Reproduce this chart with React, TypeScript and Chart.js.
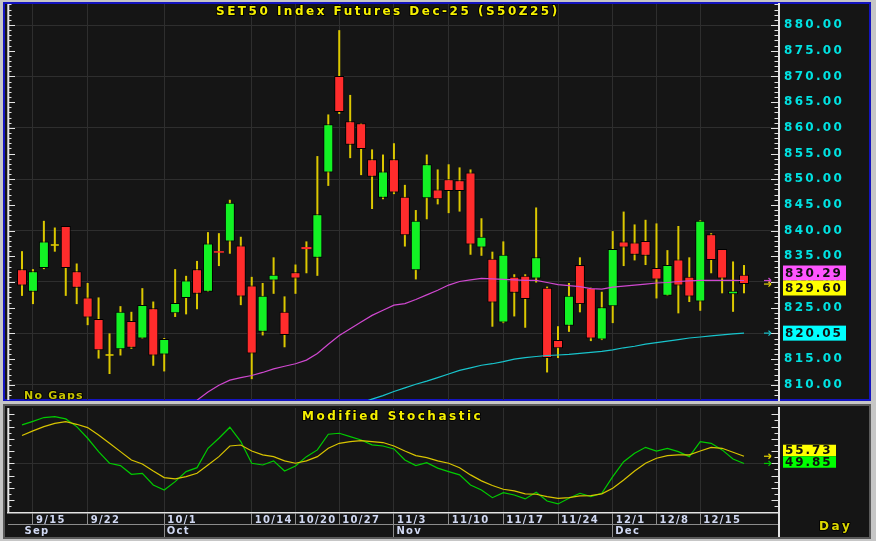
import React, { useEffect, useRef } from 'react';
import { Chart, registerables } from 'chart.js';

Chart.register(...registerables);

// ---------------- data ----------------
// trading days 9/12 .. 12/19 (index 0 = 9/12)
const opens = [
  832.5, 828.1, 832.7, 837.2, 840.9, 832.1, 827.0, 822.8, 815.8, 816.9,
  822.4, 819.0, 824.9, 815.9, 823.9, 826.9, 832.5, 828.1, 836.0, 837.9,
  837.1, 829.3, 820.3, 830.3, 824.2, 831.9, 836.8, 834.7, 851.3, 870.1,
  861.3, 860.9, 853.9, 846.4, 853.9, 846.6, 832.3, 846.3, 848.0, 850.0,
  849.8, 851.3, 836.7, 834.5, 822.1, 831.0, 831.2, 830.7, 828.9, 818.7,
  821.5, 833.3, 828.9, 818.8, 825.3, 837.9, 837.7, 838.0, 832.7, 827.3,
  834.4, 831.0, 826.2, 839.3, 836.4, 827.6, 831.4,
];
const highs = [
  836.0, 832.5, 841.9, 840.6, 840.9, 833.6, 829.8, 827.0, 820.0, 825.3,
  824.2, 828.8, 826.2, 819.1, 832.5, 831.2, 834.1, 839.7, 839.5, 846.0,
  838.8, 831.0, 829.8, 834.8, 827.2, 833.4, 837.9, 854.5, 862.6, 879.0,
  866.4, 860.9, 855.8, 854.8, 857.0, 848.9, 844.0, 854.8, 851.9, 852.9,
  852.3, 851.9, 842.4, 835.9, 837.9, 831.5, 831.5, 844.5, 829.1, 821.4,
  829.8, 834.8, 828.9, 828.1, 839.9, 843.7, 841.2, 842.1, 841.4, 836.2,
  840.9, 834.8, 842.0, 839.5, 836.4, 834.0, 833.3,
];
const lows = [
  827.3, 825.7, 832.5, 835.9, 827.3, 825.7, 821.6, 815.1, 812.1, 815.7,
  817.0, 819.0, 813.7, 812.6, 823.2, 823.7, 824.7, 828.1, 833.1, 835.5,
  825.5, 811.1, 819.6, 827.7, 817.3, 827.7, 831.7, 831.2, 848.7, 862.7,
  854.1, 850.8, 844.2, 846.1, 847.1, 836.9, 830.5, 842.2, 845.1, 843.4,
  843.7, 835.3, 835.1, 821.3, 822.0, 823.3, 821.1, 829.9, 812.4, 815.2,
  820.3, 824.1, 818.5, 818.7, 822.0, 833.1, 834.2, 833.3, 826.8, 827.3,
  823.9, 826.1, 824.4, 831.7, 827.8, 824.2, 827.8,
];
const closes = [
  829.3, 832.1, 837.9, 837.2, 832.7, 828.9, 823.1, 816.7, 815.8, 824.2,
  817.2, 825.5, 815.7, 818.9, 825.9, 830.3, 827.7, 837.5, 835.7, 845.4,
  827.2, 816.1, 827.3, 831.4, 819.7, 830.7, 836.4, 843.2, 860.7, 863.1,
  856.7, 855.9, 850.5, 851.5, 847.4, 839.1, 841.9, 852.9, 846.1, 847.7,
  847.7, 837.3, 838.8, 826.0, 835.3, 827.9, 826.7, 834.8, 815.2, 817.1,
  827.3, 825.7, 819.0, 825.1, 836.4, 836.7, 835.3, 835.1, 830.5, 833.3,
  829.3, 827.2, 841.9, 834.3, 830.7, 828.3, 829.6,
];
// magenta moving average
const maFast = [
  null, null, null, null, null, null, null, null, null, null,
  null, null, null, null, null, 805.8, 807.0, 808.6, 809.9, 810.9,
  811.4, 811.8, 812.4, 813.1, 813.6, 814.1, 814.8, 816.1, 817.9, 819.6,
  820.9, 822.2, 823.5, 824.5, 825.5, 825.8, 826.6, 827.5, 828.4, 829.4,
  830.1, 830.4, 830.7, 830.6, 830.5, 830.4, 830.3, 830.3, 829.9, 829.5,
  829.3, 829.1, 828.7, 828.6, 829.0, 829.2, 829.4, 829.6, 829.8, 829.9,
  830.1, 830.2, 830.3, 830.3, 830.3, 830.3, 830.29,
];
// cyan moving average
const maSlow = [
  null, null, null, null, null, null, null, null, null, null,
  null, null, null, null, null, null, null, null, null, null,
  null, null, null, null, null, null, null, null, null, null,
  null, 806.5, 807.2, 807.9, 808.7, 809.4, 810.1, 810.7, 811.4, 812.1,
  812.8, 813.3, 813.8, 814.1, 814.5, 815.0, 815.3, 815.5, 815.7, 815.8,
  815.9, 816.1, 816.3, 816.5, 816.8, 817.2, 817.5, 817.9, 818.2, 818.5,
  818.8, 819.1, 819.3, 819.5, 819.7, 819.9, 820.05,
];
// Modified Stochastic
const stochK = [
  81.3, 84.2, 87.3, 88.1, 86.2, 79.9, 70.4, 59.5, 50.0, 48.1,
  41.0, 41.8, 32.3, 28.2, 35.0, 43.2, 46.4, 62.2, 70.4, 79.4,
  67.7, 50.0, 48.6, 51.9, 43.7, 47.8, 55.4, 60.9, 73.7, 74.5,
  71.7, 69.0, 65.0, 64.1, 61.7, 52.7, 48.1, 50.5, 46.0, 43.2,
  40.5, 32.3, 28.2, 21.9, 26.0, 24.1, 20.9, 26.3, 19.2, 16.8,
  21.4, 25.5, 22.8, 25.5, 39.1, 51.3, 58.1, 63.0, 60.0, 62.2,
  59.5, 55.4, 67.7, 66.3, 60.9, 53.5, 49.85,
];
const stochD = [
  72.6, 76.4, 79.9, 82.6, 84.0, 81.8, 79.1, 73.1, 66.3, 59.5,
  52.7, 49.4, 43.7, 38.3, 37.2, 39.1, 41.8, 48.6, 55.4, 64.1,
  64.9, 60.0, 56.8, 55.4, 51.9, 50.0, 51.9, 55.4, 62.2, 66.3,
  67.7, 68.5, 67.7, 66.9, 64.1, 60.0, 56.2, 54.6, 52.0, 50.0,
  46.4, 40.5, 35.6, 31.8, 28.8, 27.4, 25.0, 24.7, 22.8, 21.4,
  21.9, 23.3, 23.6, 25.0, 29.6, 36.4, 43.7, 50.0, 54.1, 56.2,
  56.8, 56.8, 60.0, 63.0, 62.2, 59.0, 55.73,
];
const weekTickIdx = [1, 6, 13, 21, 25, 29, 34, 39, 44, 49, 54, 58, 62];
const weekTickLabels = ['9/15', '9/22', '10/1', '10/14', '10/20', '10/27', '11/3', '11/10', '11/17', '11/24', '12/1', '12/8', '12/15'];
const monthTickIdx = [0, 13, 34, 54];
const monthTickLabels = ['Sep', 'Oct', 'Nov', 'Dec'];
const titleText = 'SET50 Index Futures Dec-25 (S50Z25)';
const stochTitle = 'Modified Stochastic';

// ---------------- style ----------------
const FONT = '"DejaVu Sans", Verdana, sans-serif';
const BG = '#151515';
const GRID = '#2e2e2e';
const AXIS = '#e4e4e4';
const UP = '#12f224';
const DOWN = '#ff2c2c';
const WICK = '#dcc800';
const MAG = '#d048d0';
const CYAN = '#18c4cc';
const K_GREEN = '#00cc00';
const D_YELLOW = '#d8c400';
const X_MIN = -1.28;
const X_MAX = 69.2;
const Y_MIN = 807.04;
const Y_MAX = 884.09;
const S_MIN = 9.4;
const S_MAX = 95.1;

const pts = (arr) => arr.map((v, i) => (v == null ? null : { x: i, y: v })).filter((p) => p !== null);

function noPad(s) {
  s.paddingTop = 0;
  s.paddingBottom = 0;
  s.paddingLeft = 0;
  s.paddingRight = 0;
}

function seg(ctx, x1, y1, x2, y2) {
  ctx.beginPath();
  ctx.moveTo(x1, y1);
  ctx.lineTo(x2, y2);
  ctx.stroke();
}

function drawText(ctx, s, x, y, color, size, ls) {
  ctx.font = `bold ${size}px ${FONT}`;
  ctx.letterSpacing = ls;
  ctx.textAlign = 'left';
  ctx.textBaseline = 'alphabetic';
  ctx.lineJoin = 'round';
  ctx.lineWidth = 2;
  ctx.strokeStyle = 'rgba(0,0,0,0.9)';
  ctx.strokeText(s, x, y);
  ctx.fillStyle = color;
  ctx.fillText(s, x, y);
}

function arrow(ctx, x, y, color) {
  ctx.strokeStyle = color;
  ctx.lineWidth = 1.2;
  seg(ctx, x, y, x + 7, y);
  seg(ctx, x + 7, y, x + 4.5, y - 2.5);
  seg(ctx, x + 7, y, x + 4.5, y + 2.5);
}

function valueBox(ctx, x, top, w, h, bg, text) {
  ctx.fillStyle = bg;
  ctx.fillRect(x, top, w, h);
  ctx.font = `bold 12px ${FONT}`;
  ctx.letterSpacing = '1.9px';
  ctx.textAlign = 'left';
  ctx.textBaseline = 'middle';
  ctx.fillStyle = '#101010';
  ctx.fillText(text, x + 2, top + h / 2 + 0.5);
}

// place two boxes: the upper one ends at the upper value's pixel when they collide
function boxPair(ctx, scale, entries, x, w, h, decimals) {
  const sorted = entries.slice().sort((a, b) => b.v - a.v);
  const yA = scale.getPixelForValue(sorted[0].v);
  const yB = scale.getPixelForValue(sorted[1].v);
  if (yB - yA < h) {
    valueBox(ctx, x, yA - h, w, h, sorted[0].bg, sorted[0].v.toFixed(decimals));
    valueBox(ctx, x, yA, w, h, sorted[1].bg, sorted[1].v.toFixed(decimals));
  } else {
    valueBox(ctx, x, yA - h / 2, w, h, sorted[0].bg, sorted[0].v.toFixed(decimals));
    valueBox(ctx, x, yB - h / 2, w, h, sorted[1].bg, sorted[1].v.toFixed(decimals));
  }
}

// ---------------- main chart ----------------
function mainConfig() {
  const bodies = [];
  const dojis = [];
  const wicks = [];
  opens.forEach((o, i) => {
    const c = closes[i];
    wicks.push({ x: i, y: [lows[i], highs[i]] });
    if (Math.abs(o - c) < 0.05) dojis.push({ x: i, y: o });
    else bodies.push({ x: i, y: [o, c], up: c > o });
  });
  const last = closes.length - 1;

  const decor = {
    id: 'mainDecor',
    beforeDraw(chart) {
      chart.ctx.letterSpacing = '2.3px';
    },
    afterDraw(chart) {
      const { ctx, chartArea: ca } = chart;
      const ys = chart.scales.y;
      ctx.save();
      ctx.letterSpacing = '0px';
      ctx.strokeStyle = AXIS;
      ctx.lineWidth = 2;
      seg(ctx, ca.left + 0.3, ca.top, ca.left + 0.3, ca.bottom);
      ctx.lineWidth = 1;
      for (let v = Math.ceil(ys.min); v <= Math.floor(ys.max); v++) {
        const y = Math.round(ys.getPixelForValue(v)) + 0.5;
        const len = v % 5 === 0 ? 7 : 3.5;
        seg(ctx, ca.left, y, ca.left + len, y);
        seg(ctx, ca.right - 1, y, ca.right - 1 - len, y);
      }
      drawText(ctx, titleText, 216, 15, '#f6f000', 12, '2.5px');
      ctx.save();
      ctx.beginPath();
      ctx.rect(ca.left, ca.top, ca.right - ca.left, ca.bottom - ca.top - 0.5);
      ctx.clip();
      drawText(ctx, 'No Gaps', 24, 399, '#c8c400', 11, '1.2px');
      ctx.restore();

      const yMag = ys.getPixelForValue(maFast[last]);
      const yClose = ys.getPixelForValue(closes[last]);
      const yCyan = ys.getPixelForValue(maSlow[last]);
      arrow(ctx, 764, yMag, MAG);
      arrow(ctx, 764, yClose, '#e8d800');
      arrow(ctx, 764, yCyan, CYAN);
      boxPair(ctx, ys, [
        { v: maFast[last], bg: '#ff55ff' },
        { v: closes[last], bg: '#ffff00' },
      ], 783, 63, 15, 2);
      valueBox(ctx, 783, yCyan - 7.5, 63, 15, '#00ffff', maSlow[last].toFixed(2));
      ctx.restore();
    },
  };

  return {
    type: 'line',
    data: {
      datasets: [
        { type: 'line', data: pts(maFast), borderColor: MAG, borderWidth: 1.2, pointRadius: 0, tension: 0, order: 0 },
        { type: 'line', data: pts(maSlow), borderColor: CYAN, borderWidth: 1.2, pointRadius: 0, tension: 0, order: 0 },
        {
          type: 'bar', data: bodies, grouped: false, categoryPercentage: 1, barPercentage: 0.95, maxBarThickness: 10,
          backgroundColor: (c) => (c.raw && c.raw.up ? UP : DOWN),
          borderColor: '#000000',
          borderWidth: (c) => (c.raw && Math.abs(c.raw.y[1] - c.raw.y[0]) < 0.6 ? 0 : 1),
          borderSkipped: false, order: 1,
        },
        {
          type: 'line', data: dojis, showLine: false, pointStyle: 'line', pointRadius: 4, borderColor: WICK,
          pointBorderColor: WICK, pointBorderWidth: 1.6, order: 1,
        },
        {
          type: 'bar', data: wicks, grouped: false, categoryPercentage: 1, barPercentage: 0.19, maxBarThickness: 2,
          backgroundColor: WICK, borderWidth: 0, order: 2,
        },
      ],
    },
    options: {
      animation: false,
      responsive: false,
      devicePixelRatio: 1,
      events: [],
      layout: { autoPadding: false, padding: { left: 8, top: 4, right: 0, bottom: 2 } },
      plugins: { legend: { display: false }, tooltip: { enabled: false }, title: { display: false } },
      scales: {
        x: {
          type: 'linear', min: X_MIN, max: X_MAX, offset: false,
          afterBuildTicks: (s) => { s.ticks = weekTickIdx.map((v) => ({ value: v })); },
          afterFit: (s) => { s.height = 0; noPad(s); },
          ticks: { display: false },
          grid: { color: GRID, lineWidth: 1, drawTicks: false, offset: false },
          border: { display: false },
        },
        y: {
          type: 'linear', position: 'right', min: Y_MIN, max: Y_MAX, beginAtZero: false,
          afterFit: (s) => { s.width = 97; noPad(s); },
          ticks: {
            stepSize: 5, includeBounds: false, autoSkip: false, padding: 5,
            callback: (v) => Number(v).toFixed(2),
            color: '#00e2e2', font: { family: FONT, weight: 'bold', size: 12 },
          },
          grid: {
            color: (c) => (c.tick && Math.round(c.tick.value) % 10 === 0 ? GRID : 'rgba(0,0,0,0)'),
            drawTicks: false,
          },
          border: { color: AXIS, width: 2 },
        },
      },
    },
    plugins: [decor],
  };
}

// ---------------- stochastic chart ----------------
function stochConfig() {
  const last = stochK.length - 1;
  const decor = {
    id: 'stochDecor',
    beforeDraw(chart) {
      chart.ctx.letterSpacing = '1.3px';
    },
    afterDraw(chart) {
      const { ctx, chartArea: ca } = chart;
      const ys = chart.scales.y;
      ctx.save();
      ctx.letterSpacing = '0px';
      ctx.strokeStyle = AXIS;
      ctx.lineWidth = 2;
      seg(ctx, ca.left + 0.3, ca.top, ca.left + 0.3, ca.bottom);
      seg(ctx, ca.right, ca.bottom, ca.right, chart.height - 1);
      ctx.lineWidth = 1;
      for (let v = 10; v <= 90; v += 5) {
        const y = Math.round(ys.getPixelForValue(v)) + 0.5;
        const len = v % 10 === 0 ? 6.5 : 3.5;
        seg(ctx, ca.left, y, ca.left + len, y);
        seg(ctx, ca.right - 1, y, ca.right - 1 - len, y);
      }
      drawText(ctx, stochTitle, 302, 15.5, '#f6f000', 12, '2.5px');
      drawText(ctx, 'Day', 819, 125.5, '#dcd800', 12, '2.6px');
      const yD = ys.getPixelForValue(stochD[last]);
      const yK = ys.getPixelForValue(stochK[last]);
      arrow(ctx, 764, yD, '#e8d800');
      arrow(ctx, 764, yK, '#00c800');
      boxPair(ctx, ys, [
        { v: stochD[last], bg: '#ffff00' },
        { v: stochK[last], bg: '#00ff00' },
      ], 783, 53, 11.5, 2);
      ctx.restore();
    },
  };
  const labelFont = { family: FONT, weight: 'bold', size: 10 };
  return {
    type: 'line',
    data: {
      datasets: [
        { data: pts(stochD), borderColor: D_YELLOW, borderWidth: 1.2, pointRadius: 0, tension: 0 },
        { data: pts(stochK), borderColor: K_GREEN, borderWidth: 1.2, pointRadius: 0, tension: 0 },
      ],
    },
    options: {
      animation: false,
      responsive: false,
      devicePixelRatio: 1,
      events: [],
      layout: { autoPadding: false, padding: { left: 8, top: 4, right: 0, bottom: 1 } },
      plugins: { legend: { display: false }, tooltip: { enabled: false }, title: { display: false } },
      scales: {
        x: {
          type: 'linear', position: 'bottom', min: X_MIN, max: X_MAX, offset: false,
          afterBuildTicks: (s) => { s.ticks = weekTickIdx.map((v) => ({ value: v })); },
          afterFit: (s) => { s.height = 11; noPad(s); },
          ticks: {
            autoSkip: false, maxRotation: 0, minRotation: 0, align: 'start', labelOffset: 3, padding: -9.5,
            color: '#d0d8f2', font: labelFont,
            callback: (v) => { const k = weekTickIdx.indexOf(Number(v)); return k >= 0 ? weekTickLabels[k] : ''; },
          },
          grid: { color: GRID, lineWidth: 1, drawTicks: true, tickLength: 11, tickColor: '#8c8c8c', tickWidth: 1, offset: false },
          border: { color: AXIS, width: 1.5 },
        },
        x2: {
          type: 'linear', position: 'bottom', min: X_MIN, max: X_MAX, offset: false,
          afterBuildTicks: (s) => { s.ticks = monthTickIdx.map((v) => ({ value: v })); },
          afterFit: (s) => { s.height = 13; noPad(s); },
          ticks: {
            autoSkip: false, maxRotation: 0, minRotation: 0, align: 'start', labelOffset: 2.5, padding: -11.5,
            color: '#d0d8f2', font: labelFont,
            callback: (v) => { const k = monthTickIdx.indexOf(Number(v)); return k >= 0 ? monthTickLabels[k] : ''; },
          },
          grid: {
            drawOnChartArea: false, drawTicks: true, tickLength: 13, tickWidth: 1, offset: false,
            tickColor: (c) => (c.tick && c.tick.value === 0 ? 'rgba(0,0,0,0)' : '#8c8c8c'),
          },
          border: { color: '#8c8c8c', width: 1 },
        },
        y: {
          type: 'linear', position: 'right', min: S_MIN, max: S_MAX,
          afterFit: (s) => { s.width = 97; noPad(s); },
          ticks: { display: false, stepSize: 10, includeBounds: false },
          grid: {
            color: (c) => (c.tick && Math.round(c.tick.value) === 50 ? GRID : 'rgba(0,0,0,0)'),
            drawTicks: false,
          },
          border: { color: AXIS, width: 2 },
        },
      },
    },
    plugins: [decor],
  };
}

export default function App() {
  const mainRef = useRef(null);
  const stochRef = useRef(null);
  useEffect(() => {
    const c1 = new Chart(mainRef.current, mainConfig() as any);
    const c2 = new Chart(stochRef.current, stochConfig() as any);
    return () => {
      c1.destroy();
      c2.destroy();
    };
  }, []);
  return (
    <div style={{ position: 'fixed', left: 0, top: 0, width: 876, height: 541, background: '#c6c6c6', overflow: 'hidden' }}>
      <div style={{ position: 'absolute', left: 3, top: 2, width: 868, height: 399, boxSizing: 'border-box', border: '2px solid #1414c0', background: BG }} />
      <div style={{ position: 'absolute', left: 3, top: 404, width: 868, height: 135, boxSizing: 'border-box', border: '2px solid #5a5a5a', background: BG }} />
      <canvas ref={mainRef} width={876} height={402} style={{ position: 'absolute', left: 0, top: 0 }} />
      <canvas ref={stochRef} width={876} height={134} style={{ position: 'absolute', left: 0, top: 404 }} />
    </div>
  );
}
